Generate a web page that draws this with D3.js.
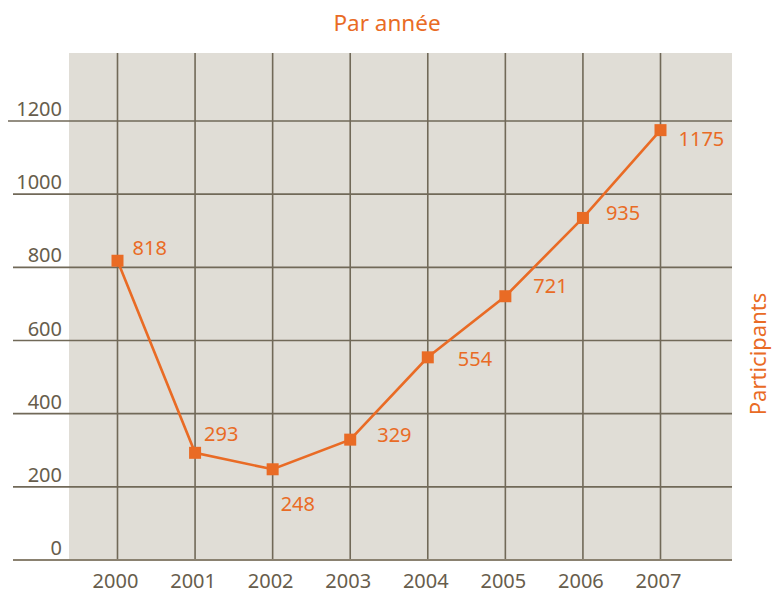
<!DOCTYPE html>
<html>
<head>
<meta charset="utf-8">
<script src="https://cdn.jsdelivr.net/npm/d3@7"></script>
<style>
  body { margin: 0; background: #fff; }
  text { font-family: "Noto Sans", "Open Sans", sans-serif; }
</style>
</head>
<body>
<svg width="772" height="594"></svg>
<script>
// données
const annees = [2000, 2001, 2002, 2003, 2004, 2005, 2006, 2007]
const participants = [818, 293, 248, 329, 554, 721, 935, 1175]
const ticksY = [0, 200, 400, 600, 800, 1000, 1200]

// décalage des étiquettes par rapport au point
const decalages = [[15, -6], [9, -12], [8, 42], [27, 2], [30, 9], [28, -3], [23, 2], [18, 16]]

const orange = '#e96b25'
const brun = '#675d4c'

const svg = d3.select('svg')

const x = d3.scaleLinear().domain([2000, 2007]).range([117.5, 660.5])
const y = d3.scaleLinear().domain([0, 1200]).range([560, 121])

// fond
svg.append('rect')
    .attr('x', 69).attr('y', 53)
    .attr('width', 663).attr('height', 507)
    .attr('fill', '#e0ddd6')

// grille verticale
svg.append('g')
    .selectAll('line')
    .data(annees)
    .join('line')
    .attr('x1', d => x(d)).attr('x2', d => x(d))
    .attr('y1', 53).attr('y2', 560)
    .attr('stroke', '#716958')
    .attr('stroke-width', 1.6)

// grille horizontale
svg.append('g')
    .selectAll('line')
    .data(ticksY)
    .join('line')
    .attr('x1', d => d == 1200 ? 8 : 13).attr('x2', 732)
    .attr('y1', d => y(d)).attr('y2', d => y(d))
    .attr('stroke', d => d == 0 ? '#8a8170' : '#716958')
    .attr('stroke-width', d => d == 0 ? 2.2 : 1.6)

// étiquettes axe Y
svg.append('g')
    .selectAll('text')
    .data(ticksY)
    .join('text')
    .attr('x', 62)
    .attr('y', d => y(d) - 5)
    .attr('text-anchor', 'end')
    .attr('font-size', 20)
    .attr('fill', brun)
    .text(d => d)

// étiquettes axe X
svg.append('g')
    .selectAll('text')
    .data(annees)
    .join('text')
    .attr('x', d => x(d) - 2)
    .attr('y', 588)
    .attr('text-anchor', 'middle')
    .attr('font-size', 20)
    .attr('fill', brun)
    .text(d => d)

const donnees = annees.map((a, i) => ({annee: a, valeur: participants[i], dec: decalages[i]}))

// ligne
svg.append('path')
    .datum(donnees)
    .attr('d', d3.line().x(d => x(d.annee)).y(d => y(d.valeur)))
    .attr('fill', 'none')
    .attr('stroke', orange)
    .attr('stroke-width', 2.6)

// points
svg.append('g')
    .selectAll('rect')
    .data(donnees)
    .join('rect')
    .attr('x', d => x(d.annee) - 6)
    .attr('y', d => y(d.valeur) - 6)
    .attr('width', 12).attr('height', 12)
    .attr('fill', orange)

// valeurs
svg.append('g')
    .selectAll('text')
    .data(donnees)
    .join('text')
    .attr('x', d => x(d.annee) + d.dec[0])
    .attr('y', d => y(d.valeur) + d.dec[1])
    .attr('font-size', 20)
    .attr('fill', orange)
    .text(d => d.valeur)

// titres
svg.append('text')
    .attr('x', 387).attr('y', 31)
    .attr('text-anchor', 'middle')
    .attr('font-size', 22.5)
    .attr('fill', orange)
    .text('Par année')

svg.append('text')
    .attr('transform', 'translate(766, 354) rotate(-90)')
    .attr('text-anchor', 'middle')
    .attr('font-size', 22)
    .attr('fill', orange)
    .text('Participants')
</script>
</body>
</html>
